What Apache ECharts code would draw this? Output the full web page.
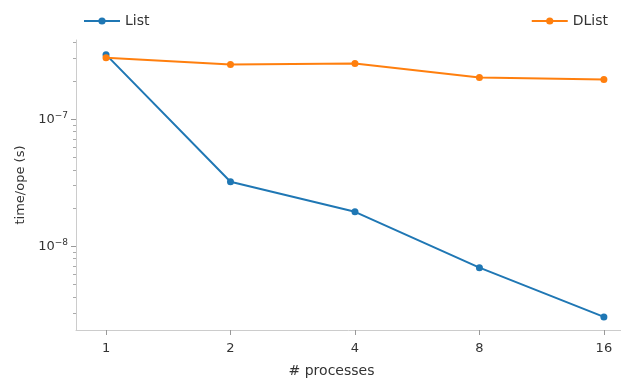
<!DOCTYPE html>
<html>
<head>
<meta charset="utf-8">
<script src="https://cdn.jsdelivr.net/npm/echarts@6/dist/echarts.min.js"></script>
<style>
  html, body { margin: 0; padding: 0; background: #fff; }
  #chart { width: 621px; height: 383px; }
</style>
</head>
<body>
<div id="chart"></div>
<script>
  // data
  const processes = [1, 2, 4, 8, 16]
  const listTimes = [3.22e-7, 3.22e-8, 1.87e-8, 6.8e-9, 2.79e-9]
  const dlistTimes = [3.05e-7, 2.69e-7, 2.74e-7, 2.13e-7, 2.05e-7]
  const yMajorTicks = [1e-8, 1e-7]
  const yMinorTicks = [3e-9, 4e-9, 5e-9, 6e-9, 7e-9, 8e-9, 9e-9,
    2e-8, 3e-8, 4e-8, 5e-8, 6e-8, 7e-8, 8e-8, 9e-8, 2e-7, 3e-7, 4e-7]

  const font = 'DejaVu Sans'
  const pairs = (ys) => processes.map((p, i) => [p, ys[i]])

  const chart = echarts.init(document.getElementById('chart'))

  const baseY = {
    type: 'log',
    logBase: 10,
    position: 'left',
    min: 2.2e-9,
    max: 4.2e-7,
    splitLine: { show: false },
    minorTick: { show: false }
  }

  chart.setOption({
    animation: false,
    color: ['#1f77b4', '#ff7f0e'],
    textStyle: { fontFamily: font },
    grid: { left: 76, right: 0, top: 40, bottom: 51, containLabel: false },
    legend: [
      {
        data: ['List'], left: 78, top: 9, itemWidth: 36, itemHeight: 9, itemGap: 8,
        textStyle: { fontFamily: font, fontSize: 14, color: '#333' }
      },
      {
        data: ['DList'], right: 8, top: 9, itemWidth: 36, itemHeight: 9, itemGap: 8,
        textStyle: { fontFamily: font, fontSize: 14, color: '#333' }
      }
    ],
    xAxis: {
      type: 'log',
      logBase: 2,
      min: 0.846,
      max: 17.6,
      name: '# processes',
      nameLocation: 'middle',
      nameGap: 34,
      nameTextStyle: { fontFamily: font, fontSize: 14, color: '#333', padding: [0, 34, 0, 0] },
      splitLine: { show: false },
      axisLine: { lineStyle: { color: '#ccc', width: 1 } },
      axisTick: { show: true, customValues: processes, length: 5, lineStyle: { color: '#999' } },
      axisLabel: {
        customValues: processes, fontFamily: font, fontSize: 13, color: '#333', margin: 12,
        formatter: (v) => String(Math.round(v))
      }
    },
    yAxis: [
      Object.assign({}, baseY, {
        name: 'time/ope (s)',
        nameLocation: 'middle',
        nameGap: 48,
        nameTextStyle: { fontFamily: font, fontSize: 13, color: '#333' },
        axisLine: { show: true, lineStyle: { color: '#ccc', width: 1 } },
        axisTick: { show: true, customValues: yMajorTicks, length: 5, lineStyle: { color: '#999' } },
        axisLabel: {
          customValues: yMajorTicks, margin: 8,
          formatter: (v) => '{b|10}{s|\u2212' + Math.round(-Math.log10(v)) + '}',
          rich: {
            b: { fontFamily: font, fontSize: 13, color: '#333' },
            s: { fontFamily: font, fontSize: 9, color: '#333', verticalAlign: 'top', padding: [0, 0, 8, 0] }
          }
        }
      }),
      Object.assign({}, baseY, {
        axisLine: { show: false },
        axisTick: { show: true, customValues: yMinorTicks, length: 3, lineStyle: { color: '#aaa' } },
        axisLabel: { show: false }
      })
    ],
    series: [
      {
        name: 'List', type: 'line', data: pairs(listTimes),
        symbol: 'circle', symbolSize: 7, lineStyle: { width: 2 }
      },
      {
        name: 'DList', type: 'line', data: pairs(dlistTimes),
        symbol: 'circle', symbolSize: 7, lineStyle: { width: 2 }
      }
    ]
  })
</script>
</body>
</html>
